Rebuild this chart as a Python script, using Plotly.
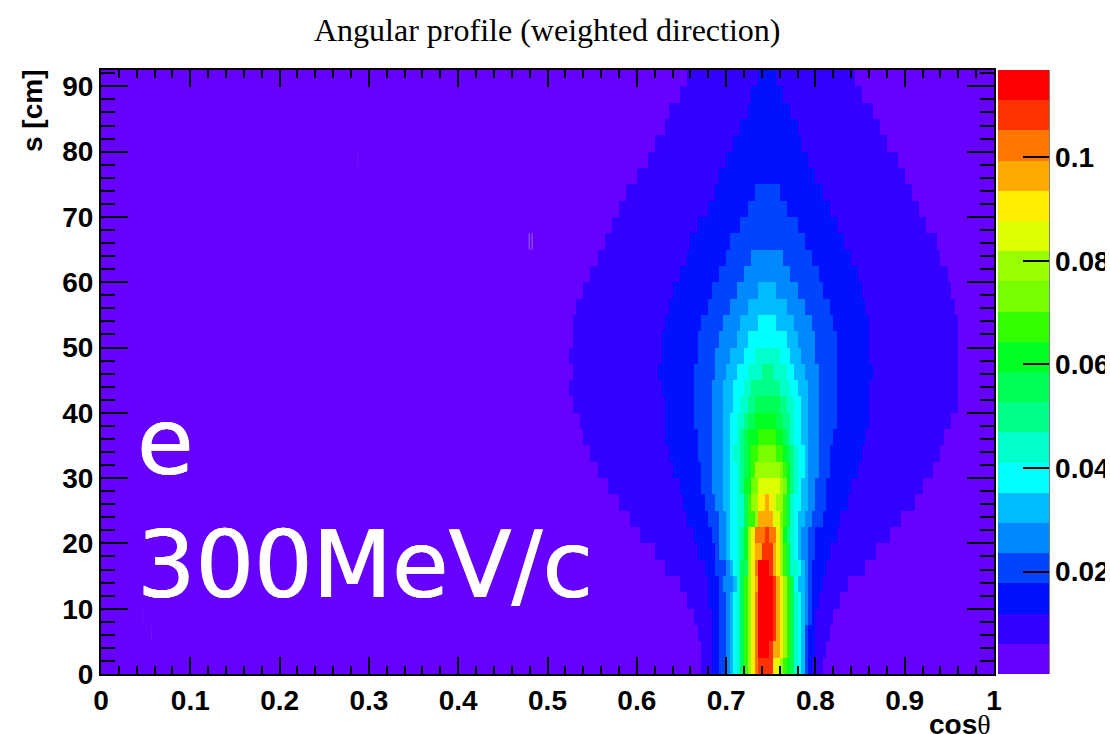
import numpy as np
import plotly.graph_objects as go

# Histogram: 250 cos(theta) bins, 37 s bins of 2.5 cm. Each row: level, end-bin, level, end-bin, ..., last level.
r36 = [0,164,1,184,2,189,1,211,0]
r35 = [0,162,1,182,2,191,1,213,0]
r34 = [0,159,1,181,2,193,1,216,0]
r33 = [0,158,1,179,2,195,1,218,0]
r32 = [0,155,1,177,2,196,1,220,0]
r31 = [0,153,1,175,2,198,1,223,0]
r30 = [0,150,1,173,2,200,1,225,0]
r29 = [0,147,1,172,2,183,3,190,2,202,1,227,0]
r28 = [0,145,1,170,2,181,3,192,2,204,1,229,0]
r27 = [0,143,1,167,2,179,3,195,2,206,1,231,0]
r26 = [0,141,1,165,2,176,3,197,2,208,1,234,0]
r25 = [0,139,1,164,2,175,3,182,4,191,3,199,2,210,1,235,0]
r24 = [0,137,1,162,2,173,3,180,4,193,3,201,2,212,1,237,0]
r23 = [0,135,1,160,2,171,3,178,4,184,5,189,4,195,3,202,2,213,1,238,0]
r22 = [0,133,1,159,2,170,3,176,4,181,5,192,4,197,3,204,2,214,1,239,0]
r21 = [0,132,1,158,2,168,3,174,4,179,5,184,6,189,5,194,4,199,3,205,2,215,1,240,0]
r20 = [0,132,1,157,2,167,3,173,4,178,5,181,6,192,5,195,4,200,3,206,2,215,1,240,0]
r19 = [0,131,1,157,2,167,3,172,4,176,5,180,6,183,7,190,6,193,5,196,4,200,3,206,2,215,1,240,0]
r18 = [0,132,1,156,2,166,3,172,4,175,5,178,6,181,7,185,8,188,7,192,6,194,5,197,4,201,3,206,2,216,1,240,0]
r17 = [0,131,1,157,2,166,3,171,4,174,5,177,6,180,7,182,8,190,7,193,6,195,5,198,4,201,3,206,2,215,1,240,0]
r16 = [0,132,1,158,2,166,3,171,4,174,5,177,6,179,7,181,8,183,9,190,8,192,7,194,6,196,5,198,4,201,3,206,2,215,1,240,0]
r15 = [0,134,1,158,2,166,3,171,4,174,5,176,6,178,7,180,8,181,9,183,10,189,9,191,8,193,7,194,6,196,5,198,4,201,3,206,2,215,1,238,0]
r14 = [0,135,1,158,2,167,3,171,4,174,5,176,6,178,7,179,8,180,9,181,10,184,11,189,10,191,9,192,8,193,7,194,6,196,5,198,4,201,3,205,2,214,1,236,0]
r13 = [0,137,1,159,2,167,3,171,4,174,5,176,6,177,7,179,8,180,9,181,10,182,11,184,12,189,11,191,10,192,9,193,8,194,7,195,6,197,5,198,4,201,3,204,2,213,1,235,0]
r12 = [0,139,1,160,2,168,3,171,4,174,5,176,6,178,7,179,8,180,9,181,10,182,11,183,13,190,12,191,11,192,10,193,8,194,7,195,6,197,5,198,4,201,3,204,2,212,1,233,0]
r11 = [0,142,1,162,2,168,3,171,4,174,5,176,6,178,7,179,8,180,10,182,12,184,14,190,13,191,12,192,10,193,8,194,7,195,6,196,5,198,4,200,3,203,2,210,1,230,0]
r10 = [0,145,1,163,2,169,3,172,4,174,5,176,6,178,7,180,9,181,11,182,13,184,15,186,16,187,15,188,14,189,13,191,11,192,9,193,7,194,6,196,5,198,4,200,3,203,2,209,1,228,0]
r09 = [0,148,1,164,2,170,3,173,4,175,5,176,6,178,7,180,9,181,11,183,13,184,16,188,14,190,12,191,11,192,9,193,7,194,6,195,5,197,4,199,3,202,2,207,1,224,0]
r08 = [0,151,1,166,2,171,3,173,4,175,5,176,6,178,7,179,8,180,10,181,13,182,15,183,17,186,18,187,17,189,15,190,13,191,10,192,8,193,7,194,6,195,5,196,4,198,3,200,2,206,1,221,0]
r07 = [0,155,1,167,2,172,3,173,4,175,5,176,6,178,7,179,8,180,10,181,13,182,15,183,16,185,18,188,16,189,15,190,13,191,11,192,9,193,7,194,6,195,5,196,4,198,3,200,2,204,1,217,0]
r06 = [0,158,1,169,2,172,3,175,4,176,5,177,6,178,7,179,9,181,13,182,15,183,17,184,19,187,18,188,16,189,15,190,13,191,11,192,9,193,7,195,6,196,5,197,4,198,3,199,2,203,1,214,0]
r05 = [0,162,1,170,2,173,3,174,4,177,5,178,7,179,9,180,11,181,13,182,15,183,16,184,19,188,18,189,16,190,15,191,13,192,11,193,9,194,6,195,5,197,4,198,3,199,2,202,1,209,0]
r04 = [0,164,1,170,2,173,3,175,4,176,5,177,6,178,7,179,9,180,11,181,13,182,15,183,17,184,19,188,18,189,16,190,15,191,13,192,11,193,9,194,7,195,6,196,5,197,4,198,3,199,2,201,1,207,0]
r03 = [0,166,1,171,2,173,3,175,4,176,5,177,6,178,7,179,9,180,11,181,13,182,15,183,17,184,19,188,18,189,16,190,15,191,13,192,11,193,9,194,7,195,6,196,5,197,4,198,3,199,2,200,1,205,0]
r02 = [0,167,1,171,2,173,3,175,4,176,5,177,6,178,7,179,9,180,11,181,13,182,15,183,17,184,19,188,18,189,16,190,15,191,13,192,11,193,9,194,7,195,6,196,5,197,3,198,2,200,1,204,0]
r01 = [0,168,1,171,2,173,3,175,4,176,5,177,6,178,7,179,9,180,11,181,13,182,15,183,17,184,19,187,18,188,16,190,15,191,13,192,11,193,9,194,7,195,6,196,5,197,3,198,2,200,1,203,0]
r00 = [0,168,1,171,2,173,3,175,4,176,5,177,6,178,7,179,9,180,11,181,13,182,15,183,17,184,18,188,15,189,14,190,13,191,11,192,10,193,9,194,7,195,6,196,5,197,3,198,2,199,1,202,0]

rows_bottom_up = [r00,r01,r02,r03,r04,r05,r06,r07,r08,r09,r10,r11,r12,r13,r14,r15,r16,r17,r18,
                  r19,r20,r21,r22,r23,r24,r25,r26,r27,r28,r29,r30,r31,r32,r33,r34,r35,r36]

band_colors = ["#6600ff","#3300ff","#0011ff","#0044ff","#0088ff","#00bbff","#00ffff","#00ffcc","#00ff88","#00ff55",
               "#00ff22","#33ff00","#77ff00","#99ff00","#ddff00","#ffee00","#ffaa00","#ff7700","#ff3300","#ff0000"]
z_min, z_max = 0.00025, 0.1168
cbar_ticks = [0.02, 0.04, 0.06, 0.08, 0.1]
cbar_labels = ["0.02", "0.04", "0.06", "0.08", "0.1"]
title_text = "Angular profile (weighted direction)"
# faint hairline specks visible in the lowest band: cos(theta), s from, s to
speck_cos = [0.4795, 0.4828, 0.2875, 0.047, 0.0565]
speck_s0 = [65, 65, 77.5, 7.5, 5]
speck_s1 = [67.5, 67.5, 80, 10, 7.5]
speck_colors = ["#9a66ff", "#9a66ff", "#6d14ff", "#6d14ff", "#6d14ff"]

NBX, NBY = 250, len(rows_bottom_up)
x_edges = np.arange(NBX + 1) * 0.004
y_edges = np.arange(NBY + 1) * 2.5
dz = (z_max - z_min) / len(band_colors)
z = np.zeros((NBY, NBX))
for j, row in enumerate(rows_bottom_up):
    levels = row[0::2]
    ends = row[1::2] + [NBX]
    start = 0
    for lv, end in zip(levels, ends):
        z[j, start:end] = z_min + (lv + 0.5) * dz
        start = end

n = len(band_colors)
colorscale = []
for i, c in enumerate(band_colors):
    colorscale += [[i / n, c], [(i + 1) / n, c]]

W, H = 1105, 734
L, R, T, B = 101, 994, 70, 674
PW = R - L
SANS = "Liberation Sans"
TICK_FONT = dict(family=SANS, size=28, color="black", weight="bold")
BIG_FONT = dict(family="DejaVu Sans", size=92, color="white", shadow="0.6px 0 0 white, -0.6px 0 0 white")

fig = go.Figure(go.Heatmap(
    x=x_edges, y=y_edges, z=z, zmin=z_min, zmax=z_max, colorscale=colorscale, hoverinfo="skip",
    colorbar=dict(
        x=(998 - L) / PW, xanchor="left", xref="paper", y=0, yanchor="bottom", yref="paper",
        len=1, lenmode="fraction", thickness=51, thicknessmode="pixels", xpad=0, ypad=0,
        outlinewidth=0, tickmode="array", tickvals=cbar_ticks, ticktext=cbar_labels,
        ticks="inside", ticklen=26, tickwidth=1.5, tickcolor="black",
        tickfont=TICK_FONT,
    ),
))

axis_common = dict(
    showline=True, linecolor="black", linewidth=2, mirror="allticks", ticks="inside", tickcolor="black",
    tickwidth=1.5, showgrid=False, zeroline=False, tickfont=TICK_FONT,
)
fig.update_xaxes(range=[0, 1], tickmode="linear", tick0=0, dtick=0.1, ticklen=17,
                 minor=dict(ticks="inside", dtick=0.02, ticklen=8, tickwidth=1.5, tickcolor="black", showgrid=False),
                 **axis_common)
fig.update_yaxes(range=[0, 92.5], tickmode="linear", tick0=0, dtick=10, ticklen=27,
                 minor=dict(ticks="inside", dtick=2, ticklen=14, tickwidth=1.5, tickcolor="black", showgrid=False),
                 **axis_common)

def px_x(p): return (p - L) / PW
def px_y(p): return (B - p) / (B - T)

shapes = [dict(type="line", xref="paper", yref="paper", x0=px_x(1049), x1=px_x(1049), y0=0, y1=1,
               line=dict(color="#555555", width=1.5))]
for c, s0, s1, col in zip(speck_cos, speck_s0, speck_s1, speck_colors):
    shapes.append(dict(type="line", xref="x", yref="y", x0=c, x1=c, y0=s0, y1=s1, line=dict(color=col, width=1)))

fig.update_layout(
    width=W, height=H, autosize=False, paper_bgcolor="white", plot_bgcolor="white",
    margin=dict(l=L, r=W - R, t=T, b=H - B, pad=0, autoexpand=False),
    shapes=shapes,
    annotations=[
        dict(text=title_text, xref="paper", yref="paper", x=px_x(547), y=px_y(30), xanchor="center", yanchor="middle",
             showarrow=False, font=dict(family="Liberation Serif", size=32, color="black")),
        dict(text="e", xref="paper", yref="paper", x=px_x(135), y=px_y(442), xanchor="left", yanchor="middle",
             showarrow=False, font=BIG_FONT),
        dict(text="300MeV/c", xref="paper", yref="paper", x=px_x(135), y=px_y(565), xanchor="left", yanchor="middle",
             showarrow=False, font=BIG_FONT),
        dict(text='<b>cos</b><span style="font-family:Liberation Serif">θ</span>', xref="paper", yref="paper",
             x=px_x(993), y=px_y(724), xanchor="right", yanchor="middle", showarrow=False,
             font=dict(family=SANS, size=28, color="black")),
        dict(text="<b>s [cm]</b>", xref="paper", yref="paper", x=px_x(32), y=px_y(68), xanchor="center", yanchor="top",
             textangle=-90, showarrow=False, font=dict(family=SANS, size=28, color="black")),
    ],
)

fig.write_html("out.html", config=dict(displayModeBar=False),
               post_script="document.body.style.margin='0';document.body.style.overflow='hidden';")
